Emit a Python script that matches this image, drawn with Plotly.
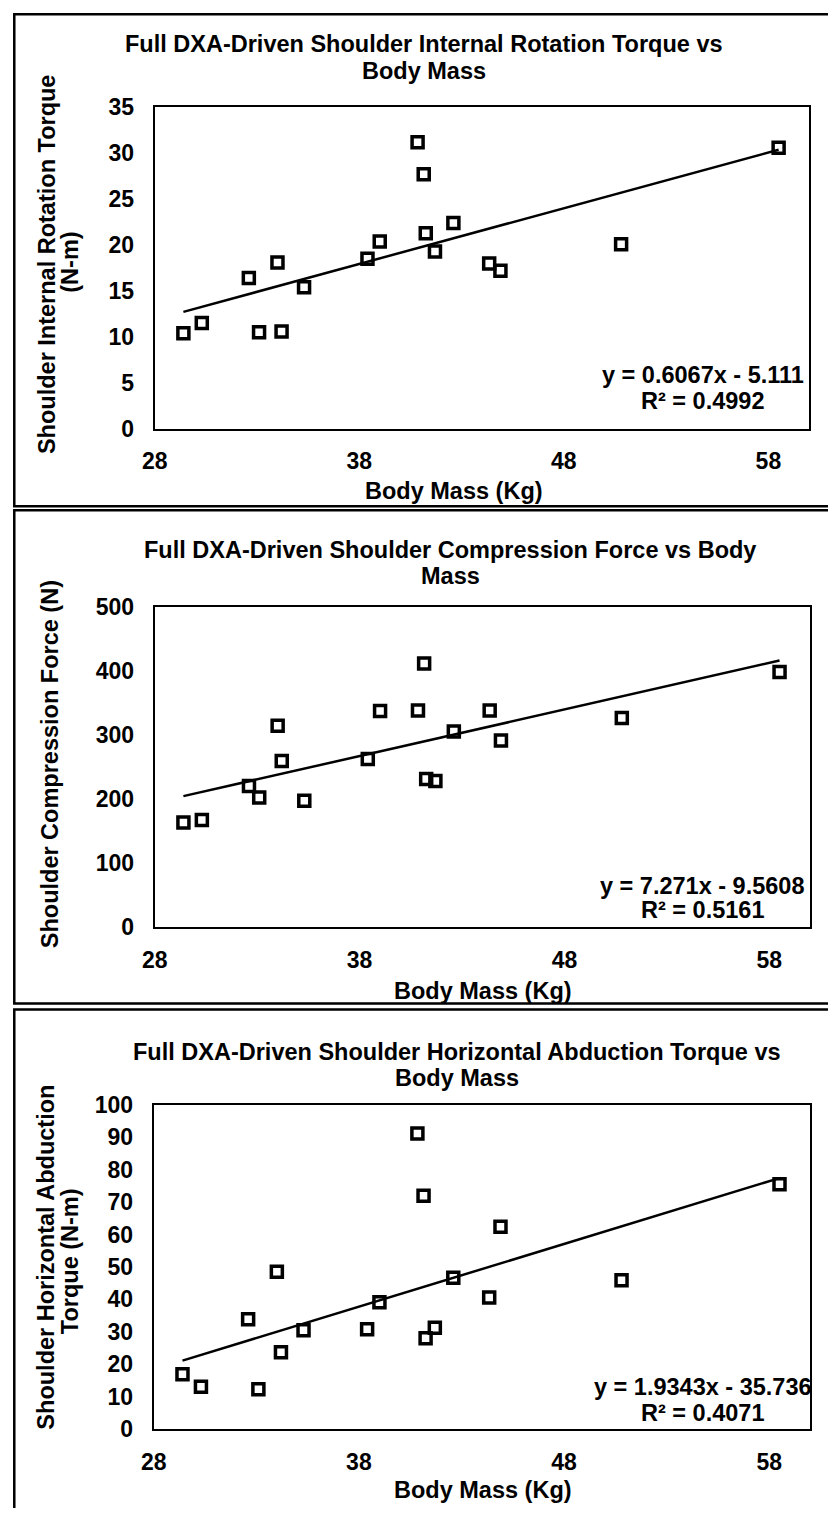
import plotly.graph_objects as go

# The page body keeps its default 8px margin, so the figure is placed at
# (8, 8) in the 836x1524 window; all positions below are window pixels.
PAGE_W, PAGE_H = 836, 1524
OFF = 8
W, H = PAGE_W - OFF, PAGE_H - 2 * OFF

# ---- data ----
body_mass = [29.4, 30.3, 32.6, 33.1, 34.0, 34.2, 35.3, 38.4, 39.0, 40.85,
             41.15, 41.25, 41.7, 42.6, 44.35, 44.9, 50.8, 58.5]
ir_torque = [10.4, 11.5, 16.4, 10.5, 18.1, 10.6, 15.4, 18.5, 20.4, 31.2,
             27.7, 21.3, 19.3, 22.4, 18.0, 17.2, 20.1, 30.6]
compression = [163, 167, 220, 202, 314, 259, 197, 262, 337, 338,
               411, 231, 228, 305, 338, 291, 326, 398]
habd_torque = [16.9, 13.1, 33.9, 12.3, 48.5, 23.7, 30.5, 30.8, 39.1, 91.2,
               72.0, 28.0, 31.3, 46.7, 40.6, 62.4, 45.9, 75.5]

fits = [(0.6067, -5.111), (7.271, -9.5608), (1.9343, -35.736)]
eq_text = [("y = 0.6067x - 5.111", "R² = 0.4992"),
           ("y = 7.271x - 9.5608", "R² = 0.5161"),
           ("y = 1.9343x - 35.736", "R² = 0.4071")]
titles = [("Full DXA-Driven Shoulder Internal Rotation Torque vs", "Body Mass"),
          ("Full DXA-Driven Shoulder Compression Force vs Body", "Mass"),
          ("Full DXA-Driven Shoulder Horizontal Abduction Torque vs", "Body Mass")]
ytitles = [("Shoulder Internal Rotation Torque", "(N-m)"),
           ("Shoulder Compression Force (N)", None),
           ("Shoulder Horizontal Abduction", "Torque (N-m)")]
x_ticks = [28, 38, 48, 58]
y_ranges = [(0, 35, 5), (0, 500, 100), (0, 100, 10)]
series = [ir_torque, compression, habd_torque]

FONT = "Liberation Sans, Arial, sans-serif"
FS = 23.5
TFS = 23


def X(px):
    return (px - OFF) / W


def Y(py):
    return 1 - (py - OFF) / H


# plot-area boxes in window pixels: left, right, top, bottom
boxes = [(152, 817, 104, 431), (152, 818, 612, 938), (151, 818, 1119, 1449)]

fig = go.Figure()
layout = dict(width=W, height=H, margin=dict(l=0, r=0, t=0, b=0),
              paper_bgcolor="white", plot_bgcolor="white", showlegend=False,
              annotations=[], shapes=[])

for i in range(3):
    xa = "x" if i == 0 else f"x{i+1}"
    ya = "y" if i == 0 else f"y{i+1}"
    l, r, t, b = boxes[i]
    ys = series[i]
    fig.add_trace(go.Scatter(
        x=body_mass, y=ys, mode="markers", xaxis=xa, yaxis=ya,
        marker=dict(symbol="square-open", size=11, color="black",
                    line=dict(width=3.5, color="black")),
        cliponaxis=False))
    a, c = fits[i]
    xmin, xmax = min(body_mass), max(body_mass)
    fig.add_trace(go.Scatter(
        x=[xmin, xmax], y=[a * xmin + c, a * xmax + c], mode="lines",
        xaxis=xa, yaxis=ya, line=dict(color="black", width=2.5)))
    y0, y1, dy = y_ranges[i]
    axfont = dict(family=FONT, size=TFS, color="black", weight="bold")
    layout["xaxis" if i == 0 else f"xaxis{i+1}"] = dict(
        domain=[X(l), X(r)], anchor=ya, range=[28, 60], tickvals=x_ticks,
        showgrid=False, zeroline=False, showline=True, mirror=True,
        linecolor="black", linewidth=2, ticks="", tickfont=axfont,
        ticklabelstandoff=11)
    layout["yaxis" if i == 0 else f"yaxis{i+1}"] = dict(
        domain=[Y(b), Y(t)], anchor=xa, range=[y0, y1], dtick=dy, tick0=0,
        showgrid=False, zeroline=False, showline=True, mirror=True,
        linecolor="black", linewidth=2, ticks="", tickfont=axfont,
        ticklabelstandoff=14)


def ann(text, px, py, angle=0):
    layout["annotations"].append(dict(
        text=f"<b>{text}</b>", x=X(px), y=Y(py), xref="paper", yref="paper",
        xanchor="center", yanchor="middle", showarrow=False, textangle=angle,
        font=dict(family=FONT, size=FS, color="black")))


# titles
title_pos = [(426, 40, 67), (452, 554, 581), (459, 1065, 1092)]
for (l1, l2), (cx, y1, y2) in zip(titles, title_pos):
    ann(l1, cx, y1)
    ann(l2, cx, y2)

# x-axis titles
for cx, cy in [(456, 494), (485, 1003), (485, 1511)]:
    ann("Body Mass (Kg)", cx, cy)

# y-axis titles
ann(ytitles[0][0], 42, 264, -90)
ann(ytitles[0][1], 66, 262, -90)
ann(ytitles[1][0], 45, 772, -90)
ann(ytitles[2][0], 42, 1274, -90)
ann(ytitles[2][1], 66, 1278, -90)

# regression equations
for (e1, e2), (y1, y2) in zip(eq_text, [(376, 403), (896, 921), (1406, 1433)]):
    ann(e1, 709, y1)
    ann(e2, 709, y2)

# chart frames (left/top edges kept just inside the figure)
for (t, b) in [(9.3, 510), (514, 1016), (1022, 1540)]:
    layout["shapes"].append(dict(
        type="rect", xref="paper", yref="paper", x0=X(9.3), x1=X(850),
        y0=Y(b), y1=Y(t), line=dict(color="black", width=2.5),
        fillcolor="rgba(0,0,0,0)", layer="above"))

fig.update_layout(**layout)
fig.write_html("out.html")
